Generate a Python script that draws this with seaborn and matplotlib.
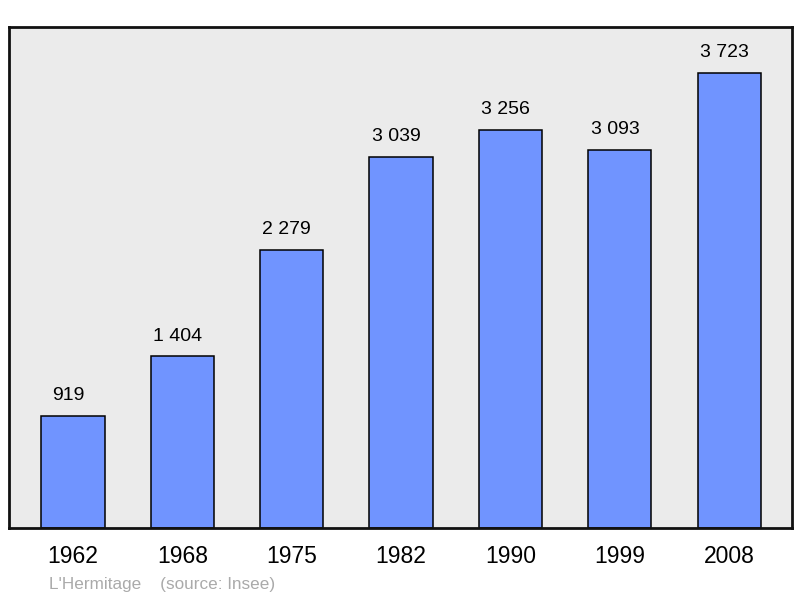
import matplotlib
matplotlib.use("Agg")
import matplotlib.pyplot as plt
import seaborn as sns
import pandas as pd

years = ["1962", "1968", "1975", "1982", "1990", "1999", "2008"]
population = [919, 1404, 2279, 3039, 3256, 3093, 3723]
value_labels = ["919", "1 404", "2 279", "3 039", "3 256", "3 093", "3 723"]
footer = "L'Hermitage    (source: Insee)"

sns.set_style("white")
plt.rcParams["font.family"] = ["Liberation Sans", "DejaVu Sans"]

df = pd.DataFrame({"year": years, "pop": population})

fig = plt.figure(figsize=(8, 5.98), dpi=100)
ax = fig.add_axes([0.01125, 0.117, 0.97875, 0.8378])
ax.set_facecolor("#ebebeb")

sns.barplot(data=df, x="year", y="pop", ax=ax, color="#7094ff",
            saturation=1, width=0.577, edgecolor="black", linewidth=1.1)

ax.set_xlim(-0.585, 6.575)
ax.set_ylim(0, 4100)

# labels sit a little left of bar centre, like the original
for i, (v, lab) in enumerate(zip(population, value_labels)):
    ax.annotate(lab, (i, v), xytext=(-3.5, 8.5), textcoords="offset points",
                ha="center", va="bottom", fontsize=14, color="black")

ax.set_yticks([])
ax.set_xlabel("")
ax.set_ylabel("")
ax.tick_params(axis="x", length=0, labelsize=16.5, pad=12, labelcolor="black")
for s in ax.spines.values():
    s.set_visible(True)
    s.set_linewidth(2)
    s.set_color("#111111")

fig.text(49 / 800, 1 - 584 / 598, footer, fontsize=12.3, color="#aaaaaa",
         ha="left", va="center")

fig.savefig("out.png", dpi=100)
